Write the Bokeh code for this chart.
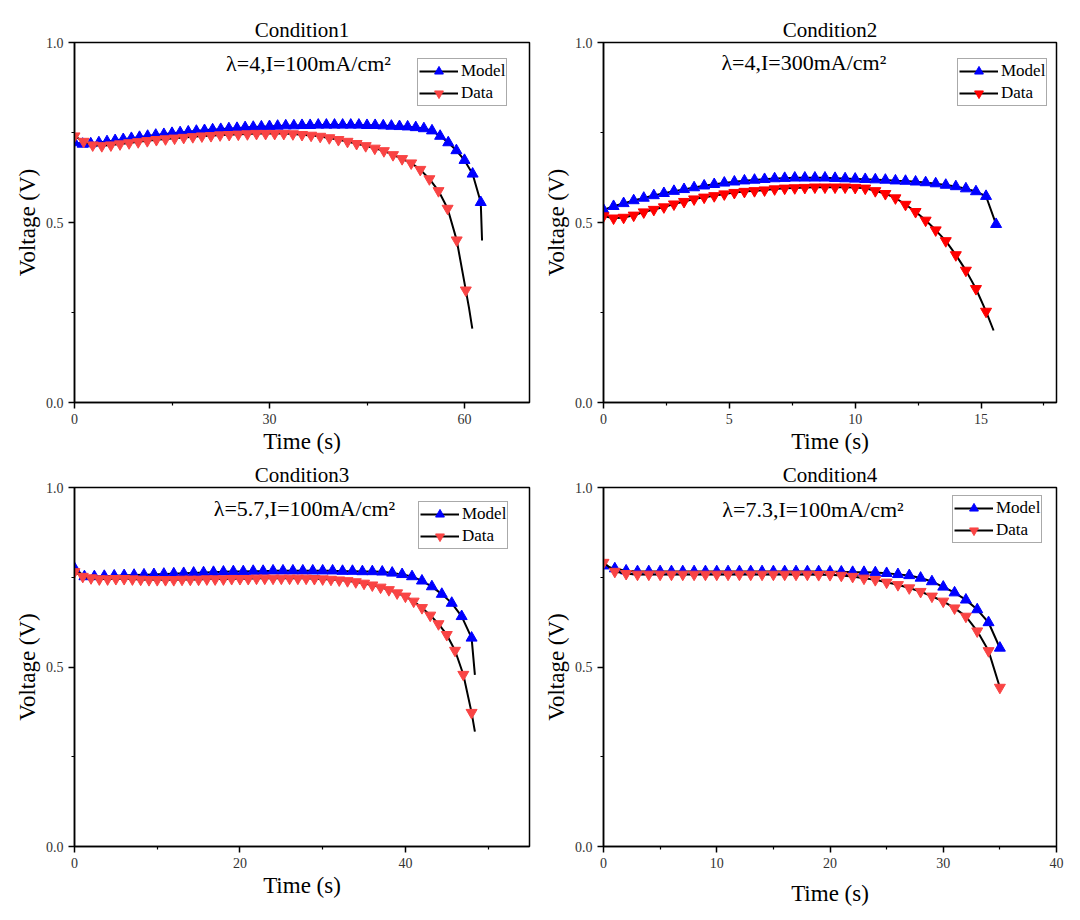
from bokeh.plotting import figure
from bokeh.models import Range1d, FixedTicker, PrintfTickFormatter, Legend, LegendItem, Label
from bokeh.layouts import column, row
from bokeh.embed import file_html
from bokeh.resources import INLINE

FONT = "'Liberation Serif', 'Times New Roman', serif"
BLUE = "#0000FF"

# ---------------- data ----------------
titles = ["Condition1", "Condition2", "Condition3", "Condition4"]
notes = ["λ=4,I=100mA/cm²", "λ=4,I=300mA/cm²", "λ=5.7,I=100mA/cm²", "λ=7.3,I=100mA/cm²"]

# Condition 1
model1_t = [0, 1.25, 2.5, 3.75, 5, 6.25, 7.5, 8.75, 10, 11.25, 12.5, 13.75, 15, 16.25, 17.5, 18.75,
            20, 21.25, 22.5, 23.75, 25, 26.25, 27.5, 28.75, 30, 31.25, 32.5, 33.75, 35, 36.25, 37.5,
            38.75, 40, 41.25, 42.5, 43.75, 45, 46.25, 47.5, 48.75, 50, 51.25, 52.5, 53.75, 55, 56.25,
            57.5, 58.75, 60, 61.25, 62.5]
model1_v = [0.722, 0.718, 0.719, 0.722, 0.725, 0.728, 0.731, 0.734, 0.737, 0.740, 0.743, 0.745, 0.748,
            0.750, 0.752, 0.754, 0.756, 0.758, 0.759, 0.761, 0.762, 0.764, 0.765, 0.766, 0.767, 0.768,
            0.769, 0.769, 0.770, 0.770, 0.771, 0.771, 0.771, 0.771, 0.771, 0.771, 0.770, 0.770, 0.769,
            0.768, 0.767, 0.766, 0.764, 0.761, 0.755, 0.740, 0.722, 0.700, 0.673, 0.635, 0.556]
model1_tail_t = [62.7]
model1_tail_v = [0.45]
data1_t = [0, 1.4, 2.8, 4.2, 5.6, 7, 8.4, 9.8, 11.2, 12.6, 14, 15.4, 16.8, 18.2, 19.6, 21, 22.4, 23.8,
           25.2, 26.6, 28, 29.4, 30.8, 32.2, 33.6, 35, 36.4, 37.8, 39.2, 40.6, 42, 43.4, 44.8, 46.2,
           47.6, 49, 50.4, 51.8, 53.2, 54.6, 56, 57.4, 58.8, 60.2]
data1_v = [0.740, 0.725, 0.715, 0.713, 0.715, 0.718, 0.721, 0.724, 0.727, 0.730, 0.732, 0.734, 0.736,
           0.738, 0.740, 0.741, 0.743, 0.744, 0.745, 0.746, 0.747, 0.747, 0.747, 0.747, 0.746, 0.744,
           0.742, 0.739, 0.735, 0.730, 0.725, 0.719, 0.713, 0.706, 0.699, 0.688, 0.677, 0.665, 0.647,
           0.621, 0.588, 0.539, 0.451, 0.312]
data1_tail_t = [60.7, 61.2]
data1_tail_v = [0.262, 0.205]

# Condition 2
model2_t = [0, 0.4, 0.8, 1.2, 1.6, 2.0, 2.4, 2.8, 3.2, 3.6, 4.0, 4.4, 4.8, 5.2, 5.6, 6.0, 6.4, 6.8,
            7.2, 7.6, 8.0, 8.4, 8.8, 9.2, 9.6, 10.0, 10.4, 10.8, 11.2, 11.6, 12.0, 12.4, 12.8, 13.2,
            13.6, 14.0, 14.4, 14.8, 15.2, 15.6]
model2_v = [0.535, 0.545, 0.553, 0.561, 0.568, 0.575, 0.581, 0.587, 0.592, 0.597, 0.602, 0.606, 0.610,
            0.613, 0.616, 0.618, 0.620, 0.622, 0.623, 0.624, 0.624, 0.624, 0.624, 0.623, 0.622, 0.621,
            0.620, 0.619, 0.618, 0.616, 0.615, 0.613, 0.611, 0.608, 0.604, 0.600, 0.594, 0.586, 0.573,
            0.495]
model2_tail_t = []
model2_tail_v = []
data2_t = [0, 0.4, 0.8, 1.2, 1.6, 2.0, 2.4, 2.8, 3.2, 3.6, 4.0, 4.4, 4.8, 5.2, 5.6, 6.0, 6.4, 6.8,
           7.2, 7.6, 8.0, 8.4, 8.8, 9.2, 9.6, 10.0, 10.4, 10.8, 11.2, 11.6, 12.0, 12.4, 12.8, 13.2,
           13.6, 14.0, 14.4, 14.8, 15.2]
data2_v = [0.518, 0.512, 0.514, 0.520, 0.529, 0.536, 0.543, 0.551, 0.558, 0.565, 0.570, 0.574, 0.579,
           0.583, 0.586, 0.588, 0.590, 0.593, 0.595, 0.596, 0.597, 0.598, 0.598, 0.598, 0.598, 0.597,
           0.595, 0.588, 0.580, 0.568, 0.550, 0.530, 0.506, 0.479, 0.449, 0.410, 0.367, 0.316, 0.253]
data2_tail_t = [15.5]
data2_tail_v = [0.2]

# Condition 3
model3_t = [0, 1.2, 2.4, 3.6, 4.8, 6.0, 7.2, 8.4, 9.6, 10.8, 12.0, 13.2, 14.4, 15.6, 16.8, 18.0, 19.2,
            20.4, 21.6, 22.8, 24.0, 25.2, 26.4, 27.6, 28.8, 30.0, 31.2, 32.4, 33.6, 34.8, 36.0, 37.2,
            38.4, 39.6, 40.8, 42.0, 43.2, 44.4, 45.6, 46.8, 48.0]
model3_v = [0.775, 0.752, 0.752, 0.753, 0.754, 0.755, 0.756, 0.757, 0.758, 0.759, 0.760, 0.761, 0.762,
            0.763, 0.764, 0.765, 0.766, 0.766, 0.767, 0.767, 0.768, 0.768, 0.768, 0.768, 0.768, 0.768,
            0.768, 0.767, 0.767, 0.766, 0.766, 0.765, 0.762, 0.758, 0.752, 0.740, 0.724, 0.703, 0.678,
            0.641, 0.581]
model3_tail_t = [48.4]
model3_tail_v = [0.478]
data3_t = [0, 1, 2, 3, 4, 5, 6, 7, 8, 9, 10, 11, 12, 13, 14, 15, 16, 17, 18, 19, 20, 21, 22, 23, 24,
           25, 26, 27, 28, 29, 30, 31, 32, 33, 34, 35, 36, 37, 38, 39, 40, 41, 42, 43, 44, 45, 46,
           47, 48]
data3_v = [0.765, 0.752, 0.748, 0.745, 0.745, 0.746, 0.746, 0.745, 0.744, 0.743, 0.743, 0.743, 0.743,
           0.744, 0.744, 0.744, 0.745, 0.745, 0.745, 0.746, 0.746, 0.746, 0.747, 0.747, 0.747, 0.747,
           0.747, 0.747, 0.747, 0.746, 0.745, 0.744, 0.742, 0.740, 0.737, 0.733, 0.728, 0.722, 0.715,
           0.706, 0.697, 0.683, 0.665, 0.644, 0.620, 0.590, 0.546, 0.479, 0.373]
data3_tail_t = [48.4]
data3_tail_v = [0.32]

# Condition 4
model4_t = [0, 1, 2, 3, 4, 5, 6, 7, 8, 9, 10, 11, 12, 13, 14, 15, 16, 17, 18, 19, 20, 21, 22, 23, 24,
            25, 26, 27, 28, 29, 30, 31, 32, 33, 34, 35]
model4_v = [0.782, 0.774, 0.768, 0.766, 0.766, 0.766, 0.766, 0.766, 0.766, 0.766, 0.766, 0.766, 0.766,
            0.766, 0.766, 0.766, 0.766, 0.766, 0.766, 0.766, 0.765, 0.765, 0.764, 0.764, 0.763, 0.761,
            0.758, 0.755, 0.748, 0.738, 0.723, 0.707, 0.687, 0.660, 0.624, 0.553]
model4_tail_t = []
model4_tail_v = []
data4_t = [0, 1, 2, 3, 4, 5, 6, 7, 8, 9, 10, 11, 12, 13, 14, 15, 16, 17, 18, 19, 20, 21, 22, 23, 24,
           25, 26, 27, 28, 29, 30, 31, 32, 33, 34, 35]
data4_v = [0.791, 0.766, 0.760, 0.758, 0.758, 0.758, 0.758, 0.758, 0.758, 0.758, 0.758, 0.758, 0.758,
           0.758, 0.758, 0.758, 0.758, 0.758, 0.758, 0.757, 0.757, 0.755, 0.752, 0.747, 0.743, 0.736,
           0.729, 0.720, 0.710, 0.697, 0.683, 0.664, 0.641, 0.600, 0.545, 0.443]
data4_tail_t = []
data4_tail_v = []

y_major = [0, 0.5, 1.0]
y_minor = [0.25, 0.75]
x_max = [70, 18, 55, 40]
x_major = [[0, 30, 60], [0, 5, 10, 15], [0, 20, 40], [0, 10, 20, 30, 40]]
x_minor = [[15, 45], [2.5, 7.5, 12.5, 17.5], [10, 30, 50], [5, 15, 25, 35]]
note_pos = [(36.0, 0.942), (7.96, 0.944), (27.8, 0.942), (18.5, 0.939)]
legend_pos = [(343, 296), (354, 296), (344, 297), (349, 303)]
red_colors = ["#F94444", "#FF0000", "#F94444", "#F94444"]


def make_panel(i, model_t, model_v, mtail_t, mtail_v, data_t, data_v, dtail_t, dtail_v,
               width, height, bl, br, bt, bb, xlab_standoff):
    p = figure(width=width, height=height, output_backend="svg", toolbar_location=None,
               x_range=Range1d(0, x_max[i]), y_range=Range1d(0, 1),
               min_border_left=bl, min_border_right=br, min_border_top=bt, min_border_bottom=bb,
               background_fill_color="white", border_fill_color="white")
    p.title.text = titles[i]
    p.title.align = "center"
    p.title.text_font = FONT
    p.title.text_font_size = "21px"
    p.title.text_font_style = "normal"
    p.title.text_color = "black"
    p.title.standoff = 1
    p.xgrid.visible = False
    p.ygrid.visible = False
    p.outline_line_color = "black"
    p.outline_line_width = 1.5
    p.outline_line_alpha = 1

    p.xaxis.ticker = FixedTicker(ticks=x_major[i], minor_ticks=x_minor[i])
    p.yaxis.ticker = FixedTicker(ticks=y_major, minor_ticks=y_minor)
    p.xaxis.formatter = PrintfTickFormatter(format="%d")
    p.yaxis.formatter = PrintfTickFormatter(format="%.1f")
    p.xaxis.axis_label = "Time (s)"
    p.yaxis.axis_label = "Voltage (V)"
    for ax in (p.xaxis[0], p.yaxis[0]):
        ax.axis_line_width = 1.5
        ax.axis_line_color = "black"
        ax.major_tick_out = 6
        ax.major_tick_in = 0
        ax.minor_tick_out = 3
        ax.minor_tick_in = 0
        ax.major_tick_line_width = 1.5
        ax.minor_tick_line_width = 1.2
        ax.major_tick_line_color = "black"
        ax.minor_tick_line_color = "black"
        ax.major_label_text_font = FONT
        ax.major_label_text_font_size = "14px"
        ax.major_label_text_color = "#333333"
        ax.major_label_standoff = 5
        ax.axis_label_text_font = FONT
        ax.axis_label_text_font_size = "23px"
        ax.axis_label_text_font_style = "normal"
        ax.axis_label_text_color = "black"
    p.xaxis[0].axis_label_standoff = xlab_standoff
    p.yaxis[0].axis_label_standoff = 3

    red = red_colors[i]
    m_line = p.line(model_t + mtail_t, model_v + mtail_v, line_color="black", line_width=2)
    m_pts = p.scatter(model_t, model_v, marker="triangle", size=11,
                      fill_color=BLUE, line_color=BLUE)
    d_line = p.line(data_t + dtail_t, data_v + dtail_v, line_color="black", line_width=2)
    d_pts = p.scatter(data_t, data_v, marker="inverted_triangle", size=11,
                      fill_color=red, line_color=red)

    p.add_layout(Label(x=note_pos[i][0], y=note_pos[i][1], text=notes[i],
                       text_font=FONT, text_font_size="22px", text_align="center",
                       text_baseline="middle", text_color="black"))

    legend = Legend(items=[LegendItem(label="Model", renderers=[m_line, m_pts]),
                           LegendItem(label="Data", renderers=[d_line, d_pts])],
                    location=legend_pos[i], orientation="vertical",
                    glyph_width=39, glyph_height=22, label_standoff=3, padding=1,
                    spacing=0, margin=0, label_height=20,
                    label_text_font=FONT, label_text_font_size="17px",
                    label_text_color="black", label_text_baseline="middle",
                    border_line_color="#555555", border_line_width=1,
                    background_fill_color="white", background_fill_alpha=1)
    p.add_layout(legend)
    return p


p1 = make_panel(0, model1_t, model1_v, model1_tail_t, model1_tail_v, data1_t, data1_v,
                data1_tail_t, data1_tail_v, 540, 460, 74, 11, 42, 58, 2)
p2 = make_panel(1, model2_t, model2_v, model2_tail_t, model2_tail_v, data2_t, data2_v,
                data2_tail_t, data2_tail_v, 532, 460, 60, 16, 42, 58, 2)
p3 = make_panel(2, model3_t, model3_v, model3_tail_t, model3_tail_v, data3_t, data3_v,
                data3_tail_t, data3_tail_v, 540, 452, 74, 11, 25, 66, 2)
p4 = make_panel(3, model4_t, model4_v, model4_tail_t, model4_tail_v, data4_t, data4_v,
                data4_tail_t, data4_tail_v, 532, 452, 60, 16, 25, 66, 10)

layout = column(row(p1, p2), row(p3, p4))
open("out.html", "w").write(file_html(layout, INLINE))
